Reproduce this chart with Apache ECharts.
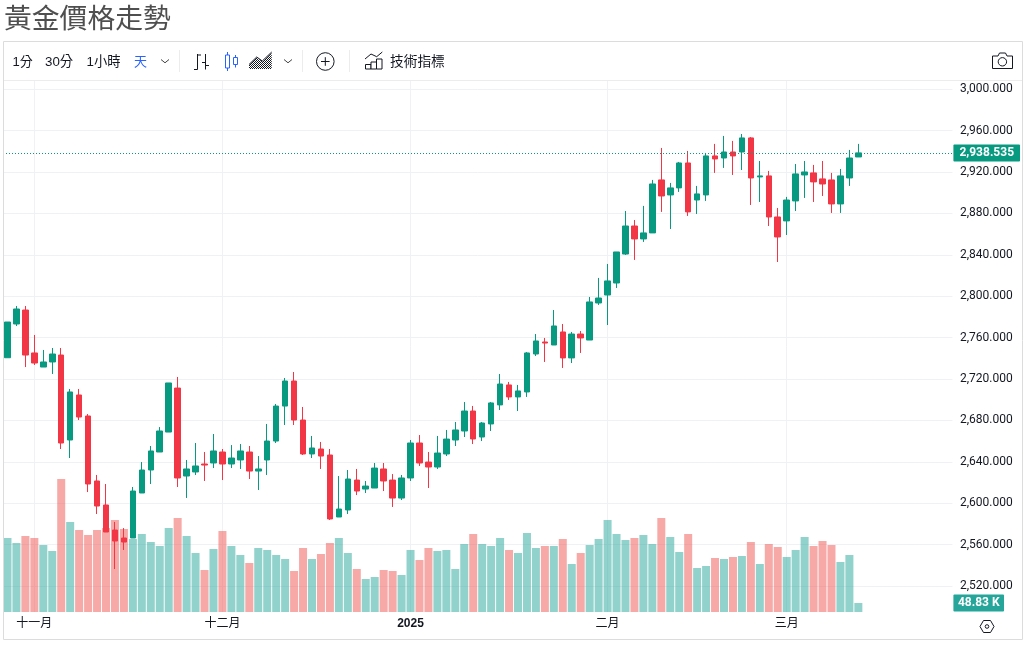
<!DOCTYPE html>
<html><head><meta charset="utf-8">
<style>html,body{margin:0;padding:0;background:#fff}#c{width:1027px;height:645px}</style>
<script src="https://cdn.jsdelivr.net/npm/echarts@6/dist/echarts.min.js"></script>
</head><body><div id="c"></div>
<script>
const dates = ['10-29','10-30','10-31','11-01','11-04','11-05','11-06','11-07','11-08','11-11','11-12','11-13','11-14','11-15','11-18','11-19','11-20','11-21','11-22','11-25','11-26','11-27','11-28','11-29','12-02','12-03','12-04','12-05','12-06','12-09','12-10','12-11','12-12','12-13','12-16','12-17','12-18','12-19','12-20','12-23','12-24','12-26','12-27','12-30','12-31','01-01','01-02','01-03','01-06','01-07','01-08','01-09','01-10','01-13','01-14','01-15','01-16','01-17','01-21','01-22','01-23','01-24','01-27','01-28','01-29','01-30','01-31','02-03','02-04','02-05','02-06','02-07','02-10','02-11','02-12','02-13','02-14','02-17','02-18','02-19','02-20','02-21','02-24','02-25','02-26','02-27','02-28','03-03','03-04','03-05','03-06','03-07','03-10','03-11','03-12','03-13'];
const futureSlots = ['f1','f2','f3','f4','f5','f6','f7','f8','f9','f10'];
const monthTicks = {'11-01':'十一月','12-02':'十二月','01-01':'2025','02-03':'二月','03-03':'三月'};
const opens = [2740.6,2773.2,2786.7,2745.2,2731.6,2736.5,2743.2,2661.1,2704.6,2684.3,2621.5,2598.3,2574.1,2566.4,2566.4,2609.9,2632.1,2649.5,2668.8,2711.3,2626.3,2630.2,2637.9,2638.9,2649.5,2637.9,2641.8,2649.5,2631.1,2641.8,2660.1,2693.9,2718.1,2680.4,2647.6,2652.4,2646.6,2586.7,2593.5,2622.4,2613.7,2614.7,2633.1,2622.4,2605,2624.4,2658.2,2639.8,2635,2647.6,2661.1,2669.8,2689.1,2664,2676.6,2695,2714.3,2702.7,2707.5,2744.2,2755.8,2752.9,2765.5,2740.4,2763.5,2757.7,2793.5,2801.2,2812.8,2840.8,2867.9,2855.4,2861.2,2912.4,2897.9,2904.7,2928.8,2893,2897.9,2935.6,2933.6,2939.4,2939.4,2953,2915.3,2916.3,2876.6,2872.8,2892.1,2917.2,2919.2,2913.4,2912.4,2889.2,2914.3,2934.6];
const closes = [2775.1,2787.7,2743.2,2735.5,2736.5,2744.2,2658.2,2707.5,2683.3,2618.6,2597.3,2572.2,2563.5,2562.5,2611.8,2632.1,2650.5,2669.8,2716.2,2624.4,2633.1,2636,2636.9,2650.5,2637.9,2643.7,2650.5,2631.1,2633.1,2660.1,2693.9,2718.1,2680.4,2647.6,2653.4,2645.6,2584.8,2594.4,2623.4,2611.8,2616.6,2634,2621.5,2605,2624.4,2658.2,2638.9,2635,2648.5,2662,2670.8,2689.1,2662.1,2677.5,2696.9,2715.2,2702.7,2708.5,2745.2,2756.8,2754.8,2771.3,2740.4,2763.5,2759.7,2794.5,2798.3,2814.8,2842.8,2867.9,2855.4,2861.2,2908.5,2896.9,2904.7,2928.8,2881.5,2898.9,2935.6,2932.7,2939.4,2935.6,2953,2914.3,2916.3,2876.6,2857.3,2893,2918.2,2920.1,2910.5,2908.5,2889.2,2916.3,2933.6,2938.535];
const lows = [2740.6,2771.2,2731.6,2733.6,2731.6,2724.9,2652.4,2643.7,2680.4,2610.8,2589.6,2572.2,2536.4,2554.8,2566.4,2609.9,2618.6,2649.5,2668.8,2615.7,2605.1,2627.3,2621.5,2634,2622.4,2634,2633.1,2623.4,2612.8,2627.3,2658.2,2675.6,2675.6,2646.6,2643.7,2633.1,2583.8,2586.7,2589.6,2607.9,2609.9,2614.7,2611.8,2596.4,2603.1,2621.5,2636,2614.7,2633.1,2645.6,2655.3,2664,2657.2,2660.1,2669.8,2690.1,2699.8,2689.1,2702.7,2742.3,2736.5,2752.9,2730.7,2735.5,2745.2,2757.7,2791.6,2772.2,2808,2839.9,2835.1,2852.5,2861.2,2881.5,2865,2900.8,2877.6,2879.5,2892.1,2919.2,2924,2917.2,2922,2888.2,2891.1,2867.9,2833.1,2859.2,2882.4,2895,2891.1,2896.9,2880.5,2880.5,2906.6,2934.6];
const highs = [2775.1,2790.6,2790.6,2762.6,2748.1,2750,2750,2710.4,2710.4,2686.2,2627.3,2618.6,2581.9,2576,2615.7,2639.8,2655.3,2673.6,2716.2,2722,2641.8,2658.2,2649.5,2666.9,2652.4,2656.2,2657.2,2655.3,2645.6,2676.6,2695.9,2721,2726.8,2693,2665,2659.2,2652.4,2626.3,2632.1,2633.1,2621.5,2638.9,2638.9,2628.2,2627.3,2661.1,2665.9,2649.5,2665,2670.8,2678.5,2697.8,2694,2678.5,2697.8,2724.9,2717.2,2714.3,2746.1,2763.5,2759.7,2786.7,2773.2,2765.5,2766.4,2799.3,2817.7,2831.2,2842.8,2882.4,2873.7,2887.3,2912.4,2943.3,2909.5,2929.8,2940.4,2906.6,2938.5,2947.2,2954.9,2950.1,2956.8,2953.9,2930.7,2921.1,2885.3,2896,2927.8,2930.7,2926.9,2930.7,2919.2,2923,2941.4,2947.2];
const volumesK = [401.5,374.3,412.3,401.5,363.5,330.9,721.5,488.3,444.9,417.7,444.9,455.7,499.1,450.3,396,423.2,379.8,358.1,455.7,510,412.3,320.1,227.9,341.8,439.4,358.1,309.2,265.8,347.2,336.4,309.2,287.5,222.4,347.2,287.5,314.7,374.3,401.5,320.1,233.3,179,189.9,227.9,222.4,200.7,336.4,282.1,347.2,330.9,336.4,233.3,368.9,423.2,368.9,358.1,401.5,336.4,320.1,428.6,347.2,358.1,358.1,396,260.4,320.1,363.5,396,499.1,423.2,390.6,401.5,417.7,368.9,510,406.9,325.5,423.2,238.7,249.6,293,287.5,298.4,303.8,379.8,260.4,368.9,352.6,298.4,336.4,406.9,358.1,385.2,363.5,271.3,309.2,48.83];
const priceTicks = [2520,2560,2600,2640,2680,2720,2760,2800,2840,2880,2920,2960,3000];
const lastPrice = 2938.535;
const lastVolumeK = 48.83;

const UP='#089981', DOWN='#F23645', VOLUP='#26a69a', VOLDOWN='#ef5350', GRID='#f0f1f4', INK='#131722', BLUE='#2962ff';
const FONT='"Liberation Sans","Noto Sans CJK TC",sans-serif';
const AXISFONT='Roboto,"Liberation Sans",sans-serif';
const categories = dates.concat(futureSlots);
const candleData = opens.map((o,i)=>[o,closes[i],lows[i],highs[i]]);
const volumeData = volumesK.map((v,i)=>({value:v,itemStyle:{color:closes[i]>=opens[i]?VOLUP:VOLDOWN,opacity:0.5}}));
const fmt = v=>v.toLocaleString('en-US',{minimumFractionDigits:3,maximumFractionDigits:3});

const dither = document.createElement('canvas'); dither.width=2; dither.height=2;
(function(){const c=dither.getContext('2d');c.fillStyle='#fff';c.fillRect(0,0,2,2);c.fillStyle='#131722';c.fillRect(0,0,1,1);c.fillRect(1,1,1,1);})();

function txt(x,y,s,size,color){return {type:'text',x,y,silent:true,style:{text:s,font:'normal '+size+'px '+FONT,fill:color||INK,textVerticalAlign:'middle',textAlign:'left'}};}
function ln(pts,color,w){return {type:'polyline',silent:true,shape:{points:pts},style:{stroke:color||INK,lineWidth:w||1,fill:null}};}
function rc(x,y,w,h,stroke,fill,lw){return {type:'rect',silent:true,shape:{x,y,width:w,height:h},style:{stroke:stroke||INK,fill:fill||'#fff',lineWidth:lw||1}};}

const chrome = [
 {type:'text',x:4,y:17.5,silent:true,style:{text:'黃金價格走勢',font:'normal 27.8px "Noto Sans CJK TC",sans-serif',fill:'#4f4f4f',textVerticalAlign:'middle'}},
 {type:'rect',silent:true,z:50,shape:{x:3.5,y:41.5,width:1019,height:598},style:{fill:null,stroke:'#dcdcdc',lineWidth:1}},
 ln([[4,80.5],[1022,80.5]],'#ececec'),
 ln([[179.5,50],[179.5,72]],'#ececec'), ln([[302.5,50],[302.5,72]],'#ececec'), ln([[349.5,50],[349.5,72]],'#ececec'),
 txt(12.5,62,'1分',13), txt(45,62,'30分',13.3), txt(86.5,62,'1小時',13.3), txt(134,62,'天',13,BLUE), txt(390,62,'技術指標',13.7),
 ln([[161,59.5],[165,62.8],[169,59.5]],'#444'), ln([[284,59.5],[288,62.8],[292,59.5]],'#444'),
 // bars icon
 ln([[197.5,54],[197.5,69.5]]), ln([[194,69.5],[197.5,69.5]]), ln([[197.5,55],[201,55]]),
 ln([[205.5,54],[205.5,69.5]]), ln([[202,62.5],[205.5,62.5]]), ln([[205.5,65.5],[209,65.5]]),
 // candle icon
 ln([[227.5,52],[227.5,71]],BLUE), rc(225.5,55,4,13,BLUE), ln([[235.5,55],[235.5,67.5]],BLUE), rc(233.5,57.5,4,7,BLUE),
 // area icon
 {type:'polygon',silent:true,shape:{points:[[249,65],[256.7,57.5],[262.3,61.5],[271.7,53],[271.7,69],[249,69]]},style:{fill:{image:dither,repeat:'repeat'}}},
 ln([[249,64.5],[256.7,57],[262.3,61],[271.7,52]]),
 // plus
 {type:'circle',silent:true,shape:{cx:325.3,cy:61.5,r:8.8},style:{fill:null,stroke:INK,lineWidth:1}},
 ln([[321,61.5],[329.6,61.5]]), ln([[325.3,57.2],[325.3,65.8]]),
 // indicators icon
 rc(365.5,64.5,5.5,4.5), rc(371,62,5.5,7), rc(376.5,59,5.5,10),
 ln([[365,59],[371,54],[376.7,56.7],[382.3,52]]),
 // camera
 {type:'polygon',silent:true,shape:{points:[[992.5,56],[998,56],[999.5,53],[1005.5,53],[1007,56],[1012.5,56],[1012.5,68.5],[992.5,68.5]]},style:{fill:'#fff',stroke:INK,lineWidth:1}},
 {type:'circle',silent:true,shape:{cx:1002.4,cy:61.8,r:4.2},style:{fill:null,stroke:INK,lineWidth:1}},
 // settings hexagon
 {type:'polygon',silent:true,shape:{points:[[980,626.5],[983.5,620.5],[990.5,620.5],[994,626.5],[990.5,632.5],[983.5,632.5]]},style:{fill:'#fff',stroke:INK,lineWidth:1}},
 {type:'circle',silent:true,shape:{cx:987,cy:626.5,r:1.8},style:{fill:null,stroke:INK,lineWidth:1}}
];

const option = {
 animation:false,
 backgroundColor:'#fff',
 textStyle:{fontFamily:FONT},
 grid:{left:3,right:74.6,top:81,bottom:33,containLabel:false},
 graphic:chrome,
 xAxis:{type:'category',data:categories,boundaryGap:true,
   axisLine:{show:false},
   axisTick:{show:false,alignWithLabel:true},
   axisLabel:{interval:0,margin:6,fontSize:12,color:INK,fontFamily:FONT,hideOverlap:false,showMinLabel:true,showMaxLabel:true,
     formatter:v=>{const t=monthTicks[v]; if(!t) return ''; return t==='2025'?'{y|2025}':t;},
     rich:{y:{fontWeight:'bold',fontSize:12,color:INK,fontFamily:FONT}}},
   splitLine:{show:true,alignWithLabel:true,interval:(i,v)=>!!monthTicks[v],lineStyle:{color:GRID,width:1}}},
 yAxis:[
  {type:'value',position:'right',min:2494.9,max:3008,scale:true,
   axisLine:{show:false},axisTick:{show:false,customValues:priceTicks},
   axisLabel:{customValues:priceTicks,margin:7.5,fontSize:12,color:INK,fontFamily:AXISFONT,formatter:fmt},
   splitLine:{show:true,lineStyle:{color:GRID,width:1}}},
  {type:'value',position:'right',min:0,max:2880.7,show:false,splitLine:{show:false}}
 ],
 series:[
  {name:'volume',type:'bar',yAxisIndex:1,data:volumeData,barWidth:8,z:1,silent:true,
   markLine:{silent:true,symbol:'none',animation:false,z:20,
     lineStyle:{color:'rgba(0,0,0,0)',width:1},
     data:[{yAxis:lastVolumeK}],
     label:{show:true,position:'end',distance:1,formatter:()=>lastVolumeK+' K',color:'#fff',fontWeight:'bold',fontSize:12,fontFamily:AXISFONT,
            backgroundColor:VOLUP,padding:[3,4.5,2,4.5],borderRadius:1,opacity:1}}},
  {name:'price',type:'candlestick',yAxisIndex:0,data:candleData,barWidth:6,z:3,silent:true,
   itemStyle:{color:UP,color0:DOWN,borderColor:UP,borderColor0:DOWN,borderColorDoji:null,borderWidth:1},
   markLine:{silent:true,symbol:'none',animation:false,
     lineStyle:{color:UP,type:[1,2],width:1,opacity:1},
     data:[{yAxis:lastPrice}],
     label:{show:true,position:'end',distance:1,formatter:()=>fmt(lastPrice),color:'#fff',fontWeight:'bold',fontSize:12,fontFamily:AXISFONT,
            backgroundColor:UP,padding:[3,6,2,6],borderRadius:1}}}
 ]
};
const chart = echarts.init(document.getElementById('c'),null,{renderer:'canvas'});
chart.setOption(option);
</script></body></html>
